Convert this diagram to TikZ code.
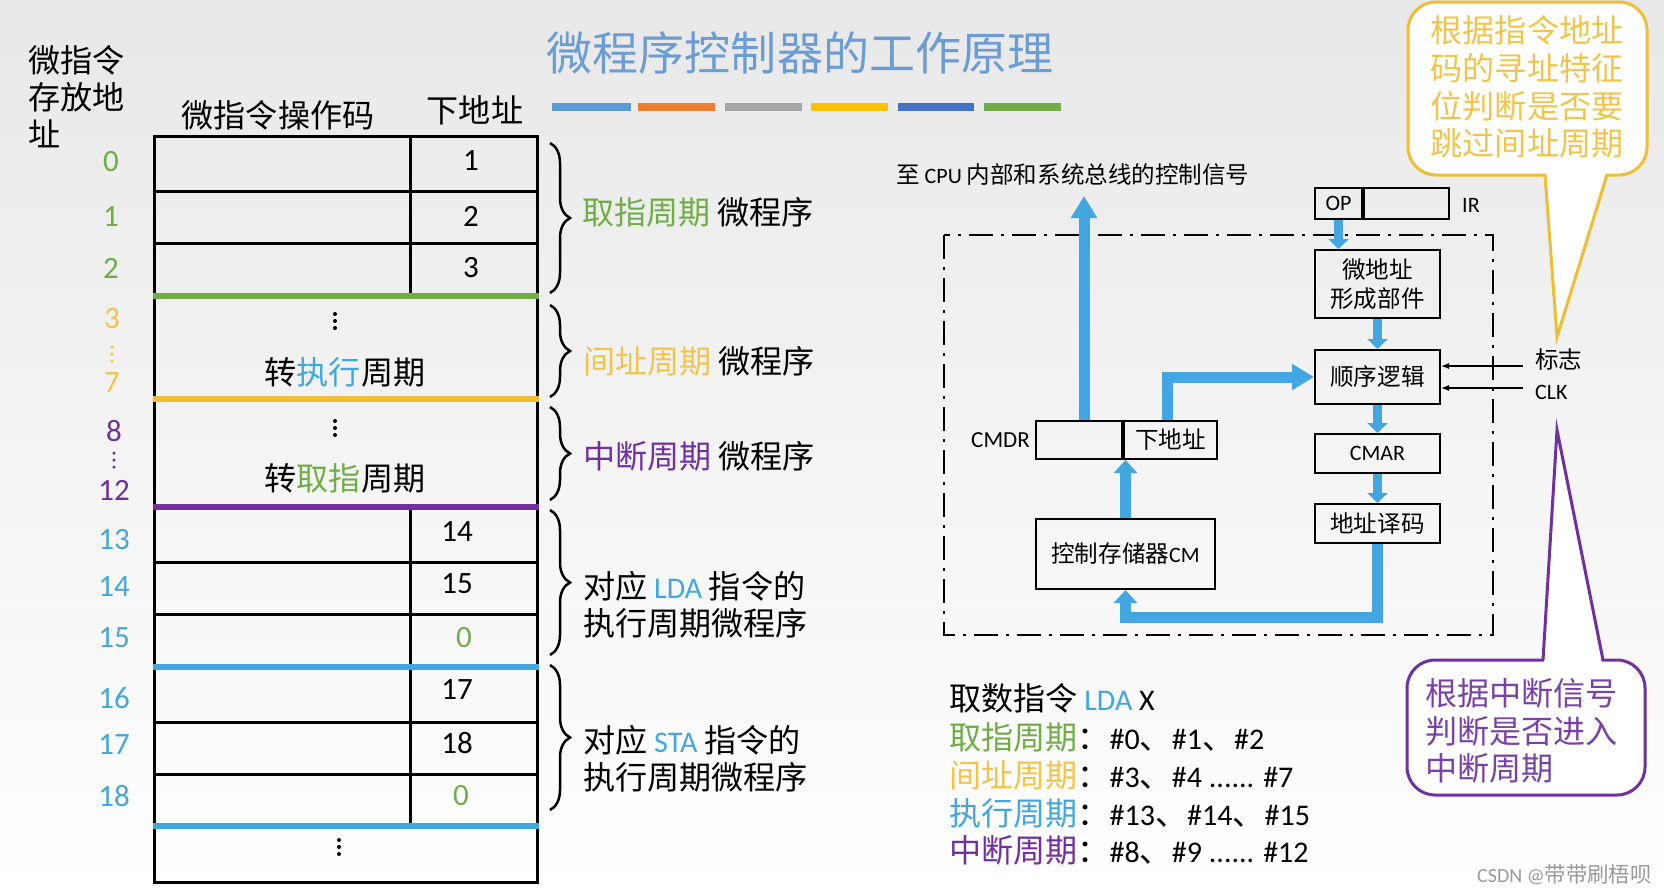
\documentclass[tikz,border=0pt]{standalone}
\usepackage{fontspec}
\setmainfont{Carlito}
\newfontfamily\cjk[Scale=1.07]{Noto Sans CJK SC}
\usetikzlibrary{arrows.meta,decorations.pathreplacing}
\definecolor{cgreen}{HTML}{70AD47}
\definecolor{cyel}{HTML}{F0BE32}
\definecolor{cyelt}{HTML}{F2C54A}
\definecolor{cpurple}{HTML}{7030A0}
\definecolor{cpurt}{HTML}{7A42A8}
\definecolor{cblue}{HTML}{42A7E0}
\definecolor{ctitle}{HTML}{6B9DD4}
\definecolor{barA}{HTML}{5B9BD5}
\definecolor{barB}{HTML}{ED7D31}
\definecolor{barC}{HTML}{A5A5A5}
\definecolor{barD}{HTML}{FFC000}
\definecolor{barE}{HTML}{4472C4}
\definecolor{barF}{HTML}{70AD47}
\newcommand\zh[1]{{\cjk #1}}
\begin{document}
\begin{tikzpicture}[x=1pt,y=-1pt,
  la/.style={font=\fontsize{31}{37}\selectfont, inner sep=0pt},
  mx/.style={font=\fontsize{30}{37}\selectfont, inner sep=0pt},
  cj/.style={font=\cjk\fontsize{30}{37}\selectfont, inner sep=0pt},
  sm/.style={font=\fontsize{22}{28}\selectfont, inner sep=0pt},
  tline/.style={line width=3pt},
  cline/.style={line width=6pt},
  mybrace/.style={decorate, decoration={brace, amplitude=20pt}, line width=2.5pt},
  box/.style={draw, line width=2pt, inner sep=0pt, font=\fontsize{22}{29}\selectfont, align=center},
  bigarr/.style={draw=cblue, line width=11pt, -{Triangle[width=25pt,length=22pt]}},
  midarr/.style={draw=cblue, line width=11pt, -{Triangle[width=23pt,length=13pt]}},
  smarr/.style={draw=cblue, line width=9pt, -{Triangle[width=20pt,length=10pt]}},
  thinarr/.style={draw, line width=1.3pt, -{Latex[length=8pt,width=6pt]}},
  dashdot/.style={draw, line width=2pt, dash pattern=on 24pt off 8pt on 3pt off 8pt},
  dot/.style={circle, fill, inner sep=0pt, minimum size=4pt}
]
\useasboundingbox (0,0) rectangle (1664,894);
\shade[top color=black!9, bottom color=white] (0,0) rectangle (1664,894);

% ---------------- title and colour bars
\node[font=\cjk\fontsize{43}{50}\selectfont, text=ctitle, inner sep=0pt] (title) at (800,53) {微程序控制器的工作原理};
\foreach \a/\b/\c in {552/631/barA, 638/715/barB, 725/802/barC, 811/888/barD, 898/974/barE, 984/1061/barF}
  \draw[line width=8pt, \c] (\a,107) -- (\b,107);

% ---------------- left table
\node[cj, align=left, anchor=north west] (addrhdr) at (28,45) {微指令\\存放地\\址};
\node[cj] (ophdr) at (278,115) {微指令操作码};
\node[cj] (nahdr) at (475,110) {下地址};

\draw[tline] (154,136) rectangle (537,882);
\foreach \y in {191,243,562,614,722,774} \draw[tline] (154,\y) -- (537,\y);
\draw[tline] (410,136) -- (410,296);
\draw[tline] (410,507) -- (410,826);
\draw[cline, cgreen] (152.5,296) -- (538.5,296);
\draw[cline, cyel] (152.5,399) -- (538.5,399);
\draw[cline, cpurple] (152.5,507) -- (538.5,507);
\draw[cline, cblue] (152.5,667) -- (538.5,667);
\draw[cline, cblue] (152.5,826) -- (538.5,826);

% next addresses
\node[la] (n0) at (471,161) {1};
\node[la] (n1) at (471,216) {2};
\node[la] (n2) at (471,268) {3};
\node[la] (n13) at (457,532) {14};
\node[la] (n14) at (457,584) {15};
\node[la, text=cgreen] (n15) at (464,638) {0};
\node[la] (n16) at (457,690) {17};
\node[la] (n17) at (457,743) {18};
\node[la, text=cgreen] (n18) at (461,796) {0};

% table middle text and dots
\foreach \y in {314,321,328} \node[dot] at (335,\y) {};
\node[cj] (goexec) at (345,372) {转\textcolor{cblue}{执行}周期};
\foreach \y in {421,428,435} \node[dot] at (335,\y) {};
\node[cj] (gofetch) at (345,478) {转\textcolor{cgreen}{取指}周期};
\foreach \y in {840,847,854} \node[dot] at (339,\y) {};

% row addresses
\node[la, text=cgreen] (a0) at (111,162) {0};
\node[la, text=cgreen] (a1) at (111,217) {1};
\node[la, text=cgreen] (a2) at (111,268) {2};
\node[la, text=cyelt] (a3) at (112,319) {3};
\foreach \y in {347,354,361} \node[dot, fill=cyelt, minimum size=3.5pt] at (112,\y) {};
\node[la, text=cyelt] (a7) at (112,383) {7};
\node[la, text=cpurple] (a8) at (114,431) {8};
\foreach \y in {453,460,467} \node[dot, fill=cpurple, minimum size=3.5pt] at (114,\y) {};
\node[la, text=cpurple] (a12) at (114,490) {12};
\node[la, text=cblue] (a13) at (114,540) {13};
\node[la, text=cblue] (a14) at (114,587) {14};
\node[la, text=cblue] (a15) at (114,638) {15};
\node[la, text=cblue] (a16) at (114,698) {16};
\node[la, text=cblue] (a17) at (114,745) {17};
\node[la, text=cblue] (a18) at (114,796) {18};

% braces and labels
\draw[mybrace] (550,143) -- (550,293);
\draw[mybrace] (550,305) -- (550,397);
\draw[mybrace] (550,407) -- (550,500);
\draw[mybrace] (550,510) -- (550,655);
\draw[mybrace] (550,665) -- (550,810);
\node[mx, anchor=west] (b1) at (582,212) {\textcolor{cgreen}{\zh{取指周期}} \zh{微程序}};
\node[mx, anchor=west] (b2) at (583,361) {\textcolor{cyelt}{\zh{间址周期}} \zh{微程序}};
\node[mx, anchor=west] (b3) at (583,456) {\textcolor{cpurple}{\zh{中断周期}} \zh{微程序}};
\node[mx, anchor=west, align=left] (b4) at (583,605) {\zh{对应} \textcolor{cblue}{LDA} \zh{指令的}\\\zh{执行周期微程序}};
\node[mx, anchor=west, align=left] (b5) at (583,759) {\zh{对应} \textcolor{cblue}{STA} \zh{指令的}\\\zh{执行周期微程序}};

% ---------------- right diagram
\node[sm, anchor=west] (sig) at (896,175) {\zh{至} CPU \zh{内部和系统总线的控制信号}};
\draw[dashdot] (944,235) rectangle (1493,635);

\node[box, minimum width=47pt, minimum height=31pt] (op) at (1338.5,203.5) {OP};
\node[box, minimum width=85pt, minimum height=31pt, anchor=west] (irr) at (op.east) {};
\node[sm, anchor=west] (irlbl) at (1462,205) {IR};
\node[box, minimum width=125pt, minimum height=68pt] (mic) at (1377.5,284) {\zh{微地址}\\\zh{形成部件}};
\node[box, minimum width=125pt, minimum height=54pt] (seq) at (1377.5,377) {\zh{顺序逻辑}};
\node[box, minimum width=125pt, minimum height=39pt] (cmar) at (1377.5,453.5) {CMAR};
\node[box, minimum width=125pt, minimum height=39pt] (dec) at (1377.5,523.5) {\zh{地址译码}};
\node[box, minimum width=86pt, minimum height=38pt] (cmdrL) at (1079,440) {};
\node[box, minimum width=93pt, minimum height=38pt, anchor=west] (cmdrR) at (cmdrL.east) {\zh{下地址}};
\node[sm, anchor=east, font=\fontsize{23}{28}\selectfont] (cmdrlbl) at (1030,440) {CMDR};
\node[box, minimum width=179pt, minimum height=70pt] (cm) at (1125.5,554) {\zh{控制存储器}CM};

\coordinate (outtop) at (1084,196);
\coordinate (loopy) at (0,617);
\coordinate (flag) at (1523,366);
\coordinate (clk) at (1523,388);

\draw[bigarr] ([xshift=5pt]cmdrL.north) -- ([xshift=5pt]cmdrL.north |- outtop);
\draw[bigarr] ([xshift=-3pt]cmdrR.north) |- (seq.west);
\draw[smarr] (op.south) -- (op.south |- mic.north);
\draw[smarr] (mic.south) -- (seq.north);
\draw[smarr] (seq.south) -- (cmar.north);
\draw[smarr] (cmar.south) -- (dec.north);
\draw[midarr] (dec.south) -- (dec.south |- loopy) -| (cm.south);
\draw[midarr] (cm.north) -- (cm.north |- cmdrL.south);
\draw[thinarr] (flag) -- (seq.east |- flag);
\draw[thinarr] (clk) -- (seq.east |- clk);
\node[sm, anchor=west] (flaglbl) at (1535,360) {\zh{标志}};
\node[sm, anchor=west] (clklbl) at (1535,392) {CLK};

% ---------------- callouts
\draw[draw=cyel, line width=3pt, fill=white, rounded corners=28pt] (1408,2) rectangle (1647,175);
\fill[white] (1546,171) -- (1557,337) -- (1606,171) -- cycle;
\draw[draw=cyel, line width=3pt] (1545,175) -- (1557,337) -- (1607,175);
\node[cj, text=cyelt, align=center, font=\cjk\fontsize{30}{37.7}\selectfont] (otext) at (1527,87) {根据指令地址\\码的寻址特征\\位判断是否要\\跳过间址周期};

\draw[draw=cpurple, line width=3pt, fill=white, rounded corners=28pt] (1407,660) rectangle (1645,795);
\fill[white] (1544,664) -- (1557,430) -- (1602,664) -- cycle;
\draw[draw=cpurple, line width=3pt] (1543,660) -- (1557,430) -- (1603,660);
\node[cj, text=cpurt, align=left, anchor=west, font=\cjk\fontsize{30}{37.5}\selectfont] (ptext) at (1425,731) {根据中断信号\\判断是否进入\\中断周期};

% ---------------- list
\node[mx, anchor=west] (l1) at (949,698) {\zh{取数指令} \textcolor{cblue}{LDA} X};
\node[mx, anchor=west] (l2) at (949,737) {\textcolor{cgreen}{\zh{取指周期}}\zh{：}\#0\zh{、}\#1\zh{、}\#2};
\node[mx, anchor=west] (l3) at (949,775) {\textcolor{cyelt}{\zh{间址周期}}\zh{：}\#3\zh{、}\#4 ...... \#7};
\node[mx, anchor=west] (l4) at (949,813) {\textcolor{cblue}{\zh{执行周期}}\zh{：}\#13\zh{、}\#14\zh{、}\#15};
\node[mx, anchor=west] (l5) at (949,850) {\textcolor{cpurple}{\zh{中断周期}}\zh{：}\#8\zh{、}\#9 ...... \#12};

\node[anchor=west, inner sep=0pt, font=\fontsize{20}{24}\selectfont, text=black!40] (wm) at (1477,875) {CSDN @\zh{带带刷梧呗}};
\end{tikzpicture}
\end{document}
